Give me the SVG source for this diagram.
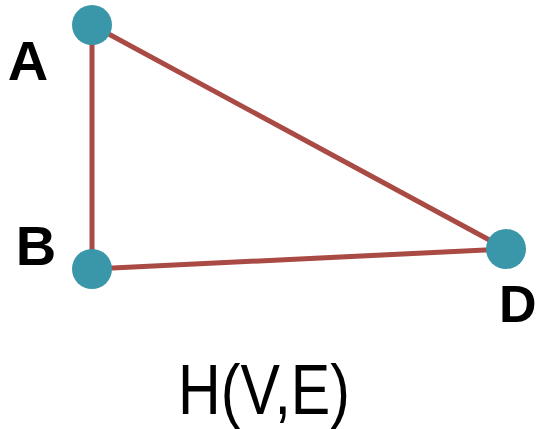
<svg xmlns="http://www.w3.org/2000/svg" width="539" height="429" viewBox="0 0 539 429">
<style>
.edge{stroke:#a94a44;stroke-width:5;stroke-linecap:butt;fill:none}
.node{fill:#3a97a9}
.lbl{font-family:"Liberation Sans",Arial,sans-serif;font-weight:bold;font-size:56px;fill:#000}
.title{font-family:"Liberation Sans",Arial,sans-serif;font-size:70px;fill:#000}
</style>
<rect width="539" height="429" fill="#fff"/>
<g id="connectors">
<line class="edge" x1="92" y1="25" x2="92" y2="269"/>
<line class="edge" x1="92" y1="25" x2="506" y2="249"/>
<line class="edge" x1="92" y1="269" x2="506" y2="249"/>
</g>
<g id="A"><circle class="node" cx="92" cy="25" r="20"/><text class="lbl" x="28" y="80" text-anchor="middle">A</text></g>
<g id="B"><circle class="node" cx="92" cy="269" r="20"/><text class="lbl" x="36" y="265" text-anchor="middle">B</text></g>
<g id="D"><circle class="node" cx="506" cy="249" r="20"/><text class="lbl" x="499" y="322" style="font-size:52px">D</text></g>
<text class="title" x="178" y="414" textLength="172" lengthAdjust="spacingAndGlyphs">H(V,E)</text>
</svg>
